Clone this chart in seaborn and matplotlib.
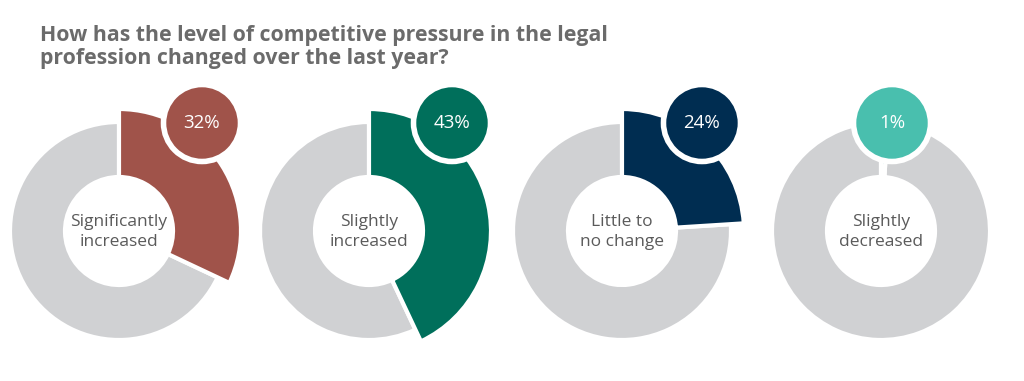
import matplotlib
matplotlib.use("Agg")
import matplotlib.pyplot as plt
import seaborn as sns
import numpy as np
from matplotlib.patches import Circle

# Data
categories = ["Significantly\nincreased", "Slightly\nincreased", "Little to\nno change", "Slightly\ndecreased"]
shares = [32, 43, 24, 1]
colors = ["#A0534A", "#006F5B", "#002D51", "#49BFAE"]
title = "How has the level of competitive pressure in the legal\nprofession changed over the last year?"

# Layout (pixel units, y measured from bottom)
W, H = 1024, 381
centers_x = [119, 369, 622, 881]
center_y = H - 231
gray = "#D0D1D3"

sns.set_theme(style="white")
plt.rcParams["font.family"] = ["Open Sans", "DejaVu Sans"]

fig = plt.figure(figsize=(W / 100, H / 100), dpi=100)
ax = fig.add_axes([0, 0, 1, 1])

for cx, share, col, label in zip(centers_x, shares, colors, categories):
    rest = 100 - share
    # grey remainder ring
    ax.pie([share, rest], center=(cx, center_y), radius=109, startangle=90,
           counterclock=False, colors=["none", gray],
           wedgeprops=dict(width=55, edgecolor="white", linewidth=3))
    # highlighted share, drawn larger
    wedges, _ = ax.pie([share, rest], center=(cx, center_y), radius=122, startangle=90,
                       counterclock=False, colors=[col, "none"],
                       wedgeprops=dict(width=68, edgecolor="white", linewidth=3))
    wedges[1].set_edgecolor("none")

    # badge sits level with the top of the grey ring
    ang = np.deg2rad(share * 3.6 / 2 + 4)
    bx = cx + min(83, 109 * np.sin(ang))
    by = center_y + 108
    ax.add_patch(Circle((bx, by), 38.5, facecolor=col, edgecolor="white", linewidth=4, zorder=5))
    ax.text(bx, by, f"{share}%", ha="center", va="center", color="white",
            fontsize=13.5, zorder=6)

    ax.text(cx, center_y - 1, label, ha="center", va="center", color="#5A5A5A",
            fontsize=12.5, linespacing=1.3)

ax.set_xlim(0, W)
ax.set_ylim(0, H)
ax.set_aspect("equal")
ax.axis("off")

# baseline alignment applies to the last line here
fig.text(40 / W, 1 - 64 / H, title, ha="left", va="baseline", color="#6B6B6B",
         fontsize=15.3, fontweight="bold", linespacing=1.15)

fig.savefig("out.png", dpi=100, facecolor="white")
